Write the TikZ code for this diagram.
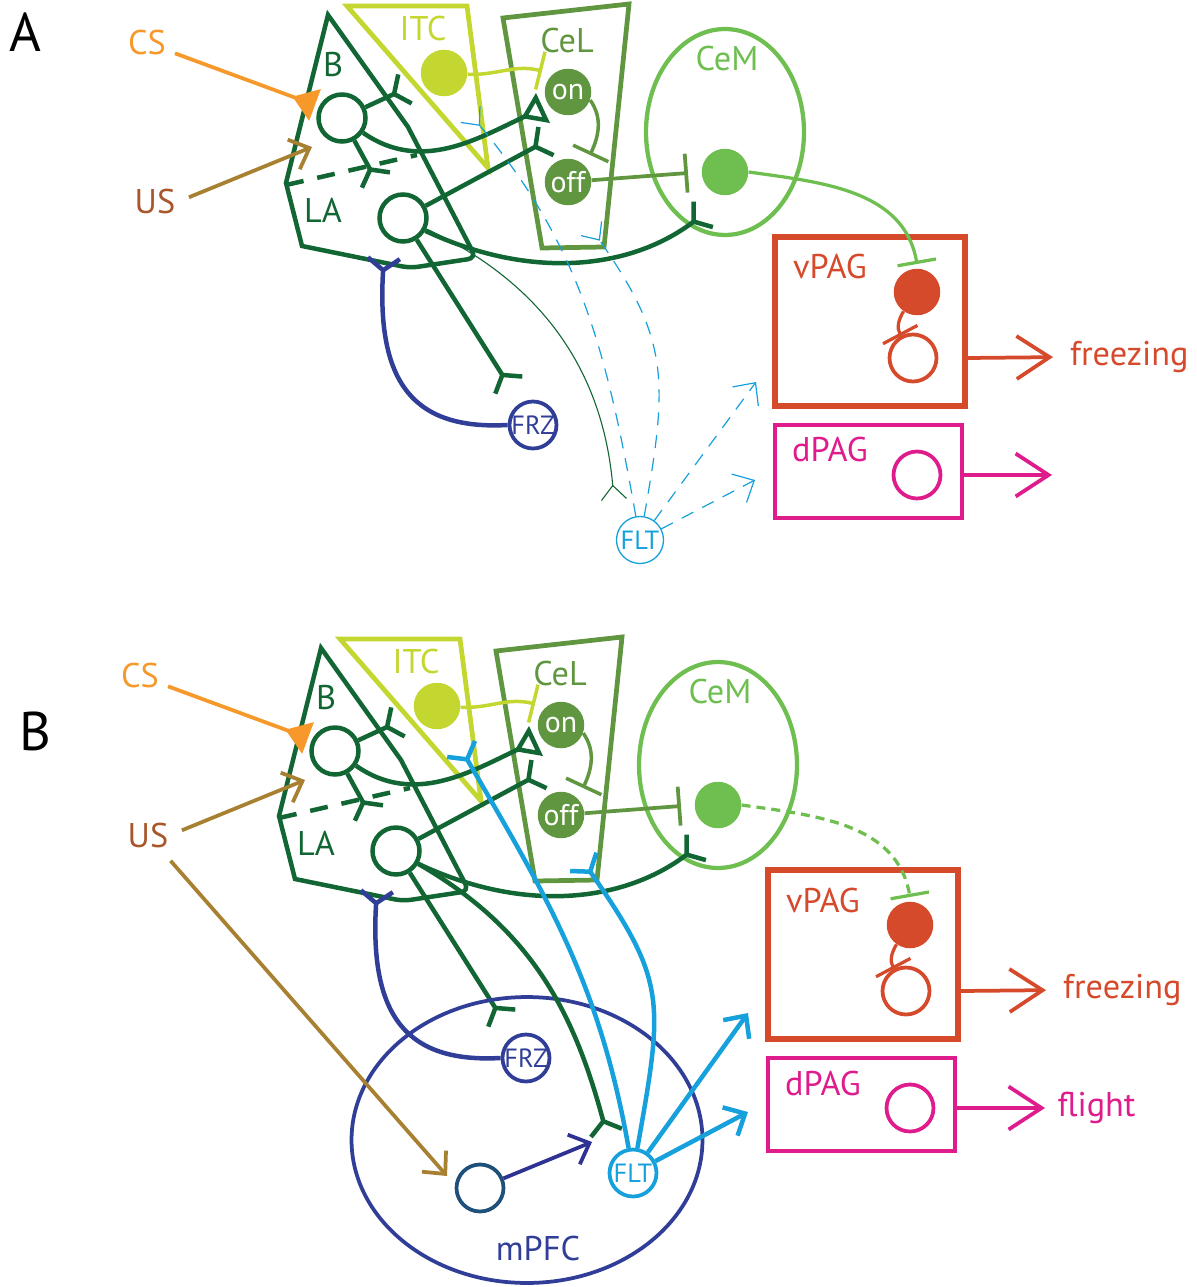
\documentclass[tikz,border=0pt]{standalone}
\usepackage{fontspec}
\setmainfont{PT Sans}
\usetikzlibrary{arrows.meta,positioning,shapes.geometric}

\definecolor{amyg}{RGB}{18,102,52}
\definecolor{itcgreen}{RGB}{196,214,48}
\definecolor{celgreen}{RGB}{96,150,64}
\definecolor{cemgreen}{RGB}{110,190,80}
\definecolor{vpagred}{RGB}{214,74,44}
\definecolor{dpagpink}{RGB}{222,28,140}
\definecolor{csorange}{RGB}{246,152,42}
\definecolor{usgold}{RGB}{168,128,50}
\definecolor{usbrown}{RGB}{168,86,42}
\definecolor{frzblue}{RGB}{48,62,152}
\definecolor{fltblue}{RGB}{22,160,220}
\definecolor{pfcblue}{RGB}{30,80,122}
\definecolor{pfcarrow}{RGB}{46,50,146}

% amygdala circuit shared by both panels (#1: style of CeM -> vPAG)
\newcommand{\amygdala}[1]{%
  % sensory inputs
  \node[lab,text=csorange] (cs) at (147,43) {CS};
  \node[lab,text=usbrown] (us) at (155,202) {US};
  % nuclei
  \draw[amyg,axon] (328,15) -- (408,127) [rounded corners=0.16cm] -- (476,258)
      -- (410,268) [sharp corners] -- (302,246) -- (286,183) -- cycle;
  \draw[amyg,axon,dash pattern=on 0.36cm off 0.28cm] (286,185) -- (417,155);
  \draw[itcgreen,line width=0.095cm] (347,6) -- (467,6) -- (488,168) -- cycle;
  \draw[celgreen,line width=0.095cm] (503,18) -- (629,4) -- (604,247) -- (542,248) -- cycle;
  \draw[cemgreen,line width=0.085cm] (725,132) ellipse [x radius=1.58cm,y radius=2.06cm];
  \node[lab,text=amyg] (Btxt) at (333,65) {B};
  \node[lab,text=amyg] (LAtxt) at (323,210) {LA};
  \node[lab,text=itcgreen] (ITCtxt) at (423,29) {ITC};
  \node[lab,text=celgreen] (CeLtxt) at (567,41) {CeL};
  \node[lab,text=cemgreen] (CeMtxt) at (727,59) {CeM};
  % neurons
  \node[neuron,draw=amyg] (Bn) at (342,118) {};
  \node[neuron,draw=amyg] (LAn) at (403,218) {};
  \node[cell,fill=itcgreen] (ITCn) at (444,73) {};
  \node[cell,fill=celgreen,text=white] (onN) at (568,92) {on};
  \node[cell,fill=celgreen,text=white] (offN) at (568,182) {off};
  \node[cell,fill=cemgreen] (CeMn) at (725,172) {};
  \node[neuron,draw=frzblue,line width=0.075cm,label={[tag,text=frzblue]center:FRZ}] (FRZ) at (533,425) {};
  % PAG
  \node[draw=vpagred,line width=0.115cm,minimum width=3.8cm,minimum height=3.38cm] (vPAG) at (870,321.5) {};
  \node[lab,text=vpagred] (vPAGtxt) at (830,267) {vPAG};
  \node[cell,fill=vpagred] (vPAGf) at (917,292) {};
  \node[neuron,draw=vpagred,line width=0.075cm] (vPAGo) at (913,358) {};
  \node[draw=dpagpink,line width=0.095cm,minimum width=3.74cm,minimum height=1.86cm] (dPAG) at (868.5,471.5) {};
  \node[lab,text=dpagpink] (dPAGtxt) at (830,450) {dPAG};
  \node[neuron,draw=dpagpink,line width=0.075cm] (dPAGn) at (917,475) {};
  \node[lab,text=vpagred,anchor=west] (freeze) at (1068,357) {freezing};
  % synapse points
  \coordinate (csT) at (315,105);
  \coordinate (usT) at (312,147);
  \coordinate (bITC) at (407,88);
  \coordinate (bCeL) at (543,108);
  \coordinate (bLA) at (377,182);
  \coordinate (laCeL) at (548,140);
  \coordinate (laCeM) at (705,213);
  \coordinate (laFRZ) at (510,387);
  \coordinate (frzLA) at (384,256);
  \coordinate (itcOn) at (542,71);
  \coordinate (onOff) at (590,155);
  \coordinate (offCeM) at (688,173);
  \coordinate (cemV) at (917,264);
  \coordinate (vpagFO) at (901,336);
  \coordinate (dOut) at (1052,475);
  % connections
  \draw[csorange,line width=0.075cm,syn,shorten <=0.15cm] (cs) -- (csT);
  \draw[usgold,line width=0.075cm,vhead,shorten <=0.25cm] (us.east) -- (usT);
  \draw[amyg,axon,exc] (Bn) -- (bITC);
  \draw[amyg,axon,opensyn] (Bn) to[out=-35,in=205] (bCeL);
  \draw[amyg,axon,exc] (Bn) -- (bLA);
  \draw[amyg,axon,exc] (LAn) -- (laCeL);
  \draw[amyg,axon,exc] (LAn.-30) .. controls (530,280) and (630,270) .. (laCeM);
  \draw[amyg,axon,exc] (LAn) -- (laFRZ);
  \draw[frzblue,axon,exc] (FRZ.west) .. controls (415,430) and (376,385) .. (frzLA);
  \draw[itcgreen,line width=0.07cm,inh] (ITCn) to[out=-3,in=166] (itcOn);
  \draw[celgreen,line width=0.07cm,inh] (onN.-20) to[out=-55,in=65] (onOff);
  \draw[celgreen,line width=0.075cm,inh] (offN) -- (offCeM);
  \draw[cemgreen,line width=0.065cm,inh,#1] (CeMn.east) to[out=-8,in=100] (cemV);
  \draw[vpagred,line width=0.065cm,inh] (vPAGf.235) to[out=240,in=118] (vpagFO);
  \draw[vpagred,line width=0.075cm,bigv,shorten >=0.3cm] (vPAG.east |- vPAGo) -- (freeze.west);
  \draw[dpagpink,line width=0.075cm,bigv] (dPAG.east |- dPAGn) -- (dOut);
}

\begin{document}
\begin{tikzpicture}[x=0.02cm,y=-0.02cm,
  lab/.style={font=\fontsize{19.5}{22}\selectfont,inner sep=1pt},
  tag/.style={font=\fontsize{15}{17}\selectfont,inner sep=0pt},
  panel/.style={font=\fontsize{31}{35}\selectfont,inner sep=0pt},
  neuron/.style={circle,draw,line width=0.09cm,minimum size=0.94cm,inner sep=0pt},
  cell/.style={circle,minimum size=0.93cm,inner sep=0pt,font=\fontsize{17}{19}\selectfont},
  axon/.style={line width=0.09cm},
  thindash/.style={line width=0.024cm,dash pattern=on 0.26cm off 0.2cm},
  exc/.style={-{Straight Barb[reversed,length=0.24cm,width=0.64cm]}},
  excthin/.style={-{Straight Barb[reversed,length=0.28cm,width=0.5cm]}},
  inh/.style={-{Bar[width=0.78cm]}},
  syn/.style={-{Triangle[reversed,length=0.48cm,width=0.66cm]}},
  opensyn/.style={-{Triangle[open,reversed,length=0.48cm,width=0.64cm]}},
  vhead/.style={-{Straight Barb[length=0.34cm,width=0.64cm]}},
  bigv/.style={-{Straight Barb[length=0.66cm,width=0.86cm]}}
]
\useasboundingbox (0,0) rectangle (1196,1287);
\node[panel] (Atxt) at (25,32) {A};
\node[panel] (Btxt) at (35,731) {B};
% Panel A
\begin{scope}[name prefix=a-]
  \amygdala{solid}
\end{scope}
\node[neuron,draw=fltblue,line width=0.026cm,label={[tag,text=fltblue]center:FLT}] (FLTa) at (640,540) {};
\coordinate (laFLTa) at (614,500);
\coordinate (fltITCa) at (470,114);
\coordinate (fltCeLa) at (591,228);
\coordinate (fltVa) at (756,382);
\coordinate (fltDa) at (755,480);
\draw[amyg,line width=0.022cm,excthin] (a-LAn) to[out=-25,in=95] (laFLTa);
\draw[fltblue,thindash,excthin] (FLTa) to[out=100,in=-50] (fltITCa);
\draw[fltblue,thindash,excthin] (FLTa) to[out=80,in=-55,looseness=1.2] (fltCeLa);
\draw[fltblue,thindash,vhead] (FLTa) -- (fltVa);
\draw[fltblue,thindash,vhead] (FLTa) -- (fltDa);
% Panel B
\begin{scope}[shift={(-7,633)},name prefix=b-]
  \amygdala{dash pattern=on 0.18cm off 0.12cm}
\end{scope}
\node[ellipse,draw=frzblue,line width=0.075cm,minimum width=7.02cm,minimum height=5.72cm,inner sep=0pt] (mPFC) at (527,1140) {};
\node[lab,text=frzblue] (mPFCtxt) at (538,1248) {mPFC};
\node[neuron,draw=pfcblue,line width=0.075cm] (pfcN) at (480,1188) {};
\node[neuron,draw=fltblue,line width=0.075cm,label={[tag,text=fltblue]center:FLT}] (FLTb) at (633,1173) {};
\coordinate (usPFC) at (447,1176);
\coordinate (pfcFLT) at (592,1142);
\coordinate (laFLTb) at (607,1135);
\coordinate (fltITCb) at (460,747);
\coordinate (fltCeLb) at (582,860);
\coordinate (fltVb) at (748,1013);
\coordinate (fltDb) at (748,1112);
\draw[usgold,line width=0.075cm,vhead,shorten <=0.3cm] (b-us) -- (usPFC);
\draw[pfcarrow,line width=0.075cm,vhead] (pfcN) -- (pfcFLT);
\draw[amyg,axon,exc] (b-LAn) to[out=-30,in=105] (laFLTb);
\draw[fltblue,axon,exc] (FLTb) to[out=100,in=-60] (fltITCb);
\draw[fltblue,axon,exc] (FLTb) to[out=80,in=-55,looseness=1.3] (fltCeLb);
\draw[fltblue,axon,vhead] (FLTb) -- (fltVb);
\draw[fltblue,axon,vhead] (FLTb) -- (fltDb);
\node[lab,text=dpagpink,right=6pt of b-dOut] (flight) {flight};
\end{tikzpicture}
\end{document}
